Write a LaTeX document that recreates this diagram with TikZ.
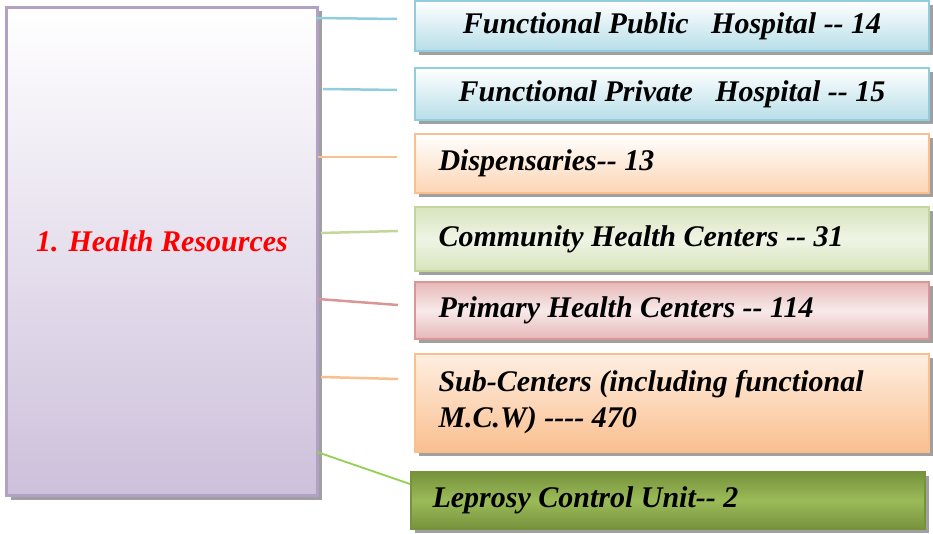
\documentclass[tikz,border=0pt]{standalone}
\usepackage{fontspec}
\setmainfont{Liberation Serif}
\usetikzlibrary{shadows}
\definecolor{lboxb}{RGB}{178,161,199}
\definecolor{lboxf}{RGB}{205,192,219}
\definecolor{blueb}{RGB}{146,205,221}
\definecolor{bluef}{RGB}{183,222,232}
\definecolor{orb}{RGB}{250,191,143}
\definecolor{orf}{RGB}{252,213,180}
\definecolor{grb}{RGB}{195,214,155}
\definecolor{grf}{RGB}{215,228,189}
\definecolor{rdb}{RGB}{217,150,148}
\definecolor{rdf}{RGB}{230,184,183}
\definecolor{olb}{RGB}{118,146,60}
\definecolor{olf}{RGB}{155,187,89}
\definecolor{lgr}{RGB}{146,208,80}
\definecolor{shd}{RGB}{150,150,150}
\tikzset{
  txt/.style={font=\fontsize{30}{36}\selectfont\bfseries\itshape},
  item/.style={draw, line width=2pt, rectangle, minimum width=514pt, inner sep=0pt, anchor=north west,
    drop shadow={shadow xshift=4pt, shadow yshift=-4pt, fill=shd, opacity=0.9}},
  conn/.style={line width=2.5pt},
}
\begin{document}
\begin{tikzpicture}[x=1pt,y=-1pt]
\useasboundingbox (0,0) rectangle (933,534);
% left box
\node[draw=lboxb, line width=3pt, top color=white, bottom color=lboxf, minimum width=311pt, minimum height=488pt,
  anchor=north west, inner sep=0pt, drop shadow={shadow xshift=4pt, shadow yshift=-4pt, fill=shd, opacity=0.9}] (L) at (5,6) {};
\node[txt, text=red] (Lt) at (162,241) {1. Health Resources};
% right boxes
\node[item, draw=blueb, top color=white, bottom color=bluef, minimum height=50pt] (b1) at (414,0) {};
\node[txt] at (b1.center) {Functional Public\ \ \ Hospital -{}- 14};
\node[item, draw=blueb, top color=white, bottom color=bluef, minimum height=52pt] (b2) at (414,67) {};
\node[txt] at (b2.center) {Functional Private\ \ \ Hospital -{}- 15};
\node[item, draw=orb, top color=white, bottom color=orf, minimum height=59pt] (b3) at (414,133) {};
\node[txt, anchor=west] at ([xshift=21pt]b3.west) {Dispensaries-{}- 13};
\node[item, draw=grb, top color=grf, bottom color=grf, middle color=grf!40, minimum height=64pt] (b4) at (414,206) {};
\node[txt, anchor=west] at ([xshift=21pt]b4.west) {Community Health Centers -{}- 31};
\node[item, draw=rdb, top color=rdf, bottom color=rdf, middle color=rdf!30, minimum height=57pt] (b5) at (414,281) {};
\node[txt, anchor=west] at ([xshift=21pt]b5.west) {Primary Health Centers -{}- 114};
\node[item, draw=orb, top color=orf!40, bottom color=orb, minimum height=98pt] (b6) at (414,353) {};
\node[txt, anchor=west, align=left] at ([xshift=21pt,yshift=1pt]b6.west) {Sub-Centers (including functional\\M.C.W) -{}-{}-{}- 470};
\node[item, draw=olb, top color=olb, bottom color=olb, middle color=olf, minimum height=57pt] (b7) at (410,471) {};
\node[txt, anchor=west] at ([xshift=19pt]b7.west) {Leprosy Control Unit-{}- 2};
% connectors
\coordinate (s1) at (316,18);  \coordinate (e1) at (397,19);
\coordinate (s2) at (323,89);  \coordinate (e2) at (397,90);
\coordinate (s3) at (318,157); \coordinate (e3) at (397,157);
\coordinate (s4) at (321,233); \coordinate (e4) at (398,231);
\coordinate (s5) at (318,299); \coordinate (e5) at (398,305);
\coordinate (s6) at (321,377); \coordinate (e6) at (398,379);
\coordinate (s7) at (317,452);
\draw[conn, blueb] (s1) -- (e1);
\draw[conn, blueb] (s2) -- (e2);
\draw[conn, orb] (s3) -- (e3);
\draw[conn, grb] (s4) -- (e4);
\draw[conn, rdb] (s5) -- (e5);
\draw[conn, orb] (s6) -- (e6);
\draw[line width=1.8pt, lgr] (s7) -- (b7.west |- 0,484);
\end{tikzpicture}
\end{document}
